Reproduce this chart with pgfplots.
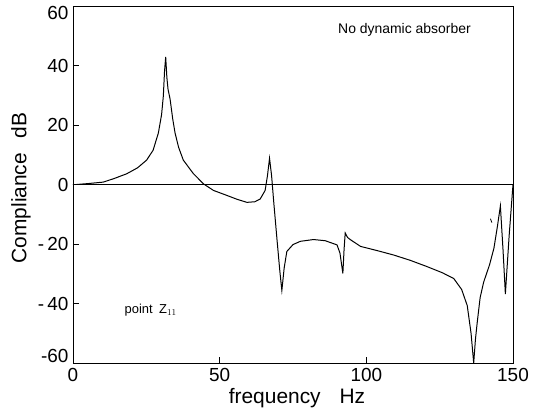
\documentclass[border=0pt]{standalone}
\usepackage{fontspec}
\setmainfont{Liberation Sans}
\usepackage{pgfplots}
\pgfplotsset{compat=1.18}
\begin{document}
\begin{tikzpicture}
\begin{axis}[
  scale only axis, width=440bp, height=357bp,
  xmin=0, xmax=150, ymin=-60, ymax=60,
  xtick={0,50,100,150}, ytick={-60,-40,-20,0,20,40,60},
  yticklabels={\raisebox{7bp}[\height][\depth]{-60},-\,40,-\,20,0,20,40,\raisebox{-7bp}[\height][\depth]{60}},
  tick align=inside, tick pos=left, major tick length=6bp,
  /pgf/number format/assume math mode=true,
  ticklabel style={font=\fontsize{19}{19}\selectfont},
  yticklabel style={xshift=-1bp},
  xticklabel style={yshift=-2bp},
  xlabel={frequency\hspace{0.9em}Hz}, ylabel={Compliance\hspace{0.7em}dB},
  label style={font=\fontsize{21}{21}\selectfont},
  xlabel style={at={(axis description cs:0.509,-0.098)}, anchor=center},
  ylabel style={at={(axis description cs:-0.118,0.49)}, anchor=center},
  axis line style={line width=0.9pt},
  every tick/.style={line width=0.8pt, black},
]
\addplot[black, line width=0.7pt] coordinates {(0,0) (150,0)};
\addplot[black, line width=1pt] coordinates {
(0,0) (1.2,0) (5,0.3) (10.3,0.8) (14,2) (18.3,3.6) (22,5.6) (25.1,8.2) (27.3,11.5) (29.1,17.3) (30.2,23.5) (30.8,29.8) (31.2,38) (31.6,42.9) (32,36) (32.4,32) (33.1,28.7) (34,22) (34.8,17.3) (36,12.5) (37.6,8.2) (41,3.7) (44.5,0.2) (47.9,-2)
(52,-3.5) (56,-5) (59.3,-6) (62,-5.8) (63.8,-4.9) (65.5,-2) (66.3,3) (67,8.8) (67.7,3) (68.4,-5.5) (69.5,-18) (70.5,-29) (71.2,-35.6) (72,-28) (72.9,-22.5) (75,-20.2) (77.5,-19.1) (82,-18.5) (86,-18.9) (90,-20.3) (91,-23) (92,-29.9) (92.4,-22) (92.8,-16.3) (93.6,-17.8) (94.5,-18.5) (98,-20.8) (104,-22.3) (109.3,-23.7) (115,-25.5) (120.7,-27.6) (126,-29.7) (129.8,-31.6) (132.5,-35.3) (134.4,-40.7) (135.7,-50) (136.6,-60) (137.2,-52) (137.8,-46.4) (138.8,-38) (140,-32.8) (142,-27) (143.5,-21.4) (144.7,-14) (145.7,-7.2) (146.6,-22) (147.4,-36.8) (148.7,-17) (150,0)
};
\addplot[black, line width=0.8pt] coordinates {(142.3,-11.5) (142.8,-12.8)};
\node[font=\fontsize{14}{14}\selectfont, anchor=center] at (axis cs:113,51.8) {No dynamic absorber};
\node[font=\fontsize{13}{13}\selectfont, anchor=center] at (axis cs:26.5,-42.3) {point\enspace Z$_{11}$};
\end{axis}
\pgfresetboundingbox
\path ([shift={(-73bp,-53bp)}]current axis.south west) rectangle ([shift={(26bp,6bp)}]current axis.north east);
\end{tikzpicture}
\end{document}
